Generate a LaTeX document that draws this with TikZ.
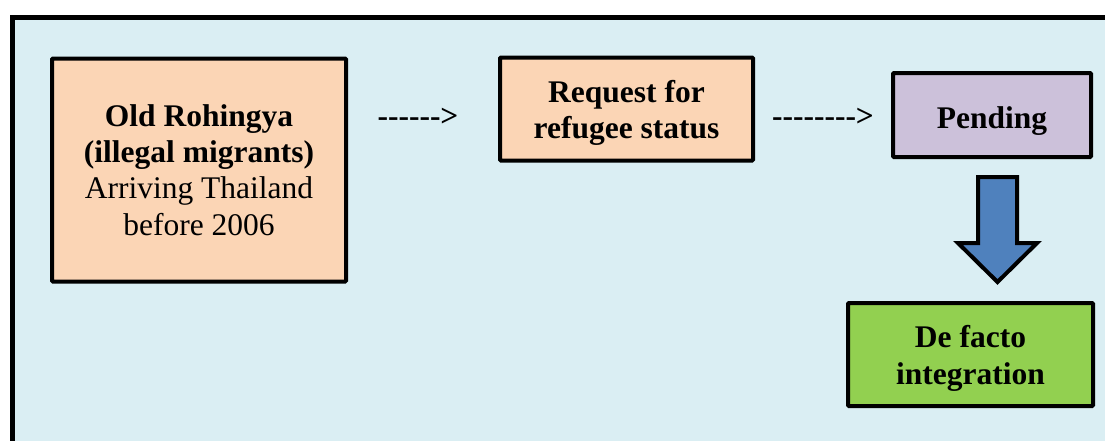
\documentclass[tikz,border=0pt]{standalone}
\usepackage{fontspec}
\setmainfont{Liberation Serif}
\definecolor{bgblue}{HTML}{DAEEF3}
\definecolor{peach}{HTML}{FBD5B5}
\definecolor{lav}{HTML}{CCC1DA}
\definecolor{grn}{HTML}{92D050}
\definecolor{arrblue}{HTML}{4F81BD}
\tikzset{
  box/.style={draw=black, line width=4pt, rounded corners=1pt, inner sep=0pt},
  boxtext/.style={inner sep=0pt, align=center, font=\fontsize{31.5}{36.3}\selectfont},
  txtarrow/.style={font=\fontsize{31.5}{36.3}\selectfont\bfseries, inner sep=0pt}
}
\begin{document}
\begin{tikzpicture}[x=1pt,y=-1pt]
\useasboundingbox (0,0) rectangle (1105,440);
\begin{scope}
\clip (0,0) rectangle (1105,440);
\draw[line width=5pt, fill=bgblue] (12.5,17.5) rectangle (1130,460);
\end{scope}
\node[box, fill=peach, minimum width=294pt, minimum height=223pt] (old) at (199,170) {};
\node[boxtext] (oldt) at (old.center)
  {\textbf{Old Rohingya}\\\textbf{(illegal migrants)}\\Arriving Thailand\\before 2006};
\node[box, fill=peach, minimum width=253pt, minimum height=103pt] (req) at (626.5,109) {};
\node[boxtext, yshift=-4pt] (reqt) at (req.center)
  {\textbf{Request for}\\\textbf{refugee status}};
\node[box, fill=lav, minimum width=198pt, minimum height=84pt] (pend) at (992,115) {};
\node[boxtext, yshift=-6pt] (pendt) at (pend.center) {\textbf{Pending}};
\node[box, fill=grn, minimum width=245pt, minimum height=103pt] (defacto) at (970.5,354.5) {};
\node[boxtext, yshift=-4pt] (defactot) at (defacto.center)
  {\textbf{De facto}\\\textbf{integration}};
\node[txtarrow] (a1) at (418,117) {-{}-{}-{}-{}-{}->};
\node[txtarrow] (a2) at (823,117) {-{}-{}-{}-{}-{}-{}-{}->};
\draw[line width=4pt, line join=miter, fill=arrblue]
  (978,177) -- (1017,177) -- (1017,243) -- (1037,243) -- (997.5,282) -- (958,243) -- (978,243) -- cycle;
\end{tikzpicture}
\end{document}
